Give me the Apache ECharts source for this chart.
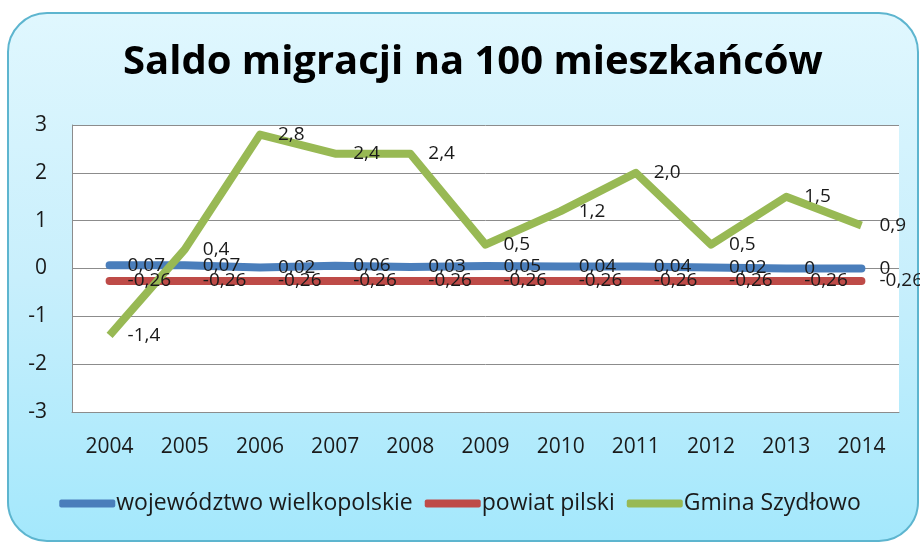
<!DOCTYPE html>
<html>
<head>
<meta charset="utf-8">
<script src="https://cdn.jsdelivr.net/npm/echarts@6/dist/echarts.min.js"></script>
<style>
  html, body { margin: 0; padding: 0; background: #fff; }
  #frame {
    position: absolute; left: 7px; top: 12px; width: 908px; height: 526px;
    border: 2px solid #5db5cf; border-radius: 40px;
    background: linear-gradient(to bottom, #e0f7fe 0%, #c8effc 50%, #a4e8fc 100%);
  }
  #chart { position: absolute; left: 0; top: 0; width: 920px; height: 543px; }
</style>
</head>
<body>
<div id="frame"></div>
<div id="chart"></div>
<script>
const years = ['2004', '2005', '2006', '2007', '2008', '2009', '2010', '2011', '2012', '2013', '2014'];
const wojewodztwo = [0.07, 0.07, 0.02, 0.06, 0.03, 0.05, 0.04, 0.04, 0.02, 0, 0];
const powiat = [-0.26, -0.26, -0.26, -0.26, -0.26, -0.26, -0.26, -0.26, -0.26, -0.26, -0.26];
const gmina = [-1.4, 0.4, 2.8, 2.4, 2.4, 0.5, 1.2, 2.0, 0.5, 1.5, 0.9];

const font = '"Open Sans", "Noto Sans", sans-serif';
const comma = v => String(v).replace('.', ',');

const myChart = echarts.init(document.getElementById('chart'), null, { renderer: 'canvas' });

// same label look for all three lines, to the right of the point
const lbl = (fmt) => ({
    show: true,
    position: 'right',
    distance: 18,
    color: '#1a1a1a',
    fontSize: 19,
    fontFamily: font,
    formatter: p => fmt(p.value)
});

const option = {
    backgroundColor: 'transparent',
    animation: false,
    title: {
        text: 'Saldo migracji na 100 mieszkańców',
        left: 118,
        top: 38,
        textStyle: { fontFamily: font, fontWeight: 'bold', fontSize: 40, color: '#000' }
    },
    grid: {
        left: 72, right: 21, top: 125, bottom: 131,
        show: true, backgroundColor: '#fff', borderWidth: 0
    },
    legend: {
        bottom: 23,
        left: 'center',
        itemWidth: 56,
        itemHeight: 8,
        itemGap: 12,
        icon: 'roundRect',
        textStyle: { fontFamily: font, fontSize: 23, color: '#1a1a1a', padding: [0, 0, 0, -4] },
        data: ['województwo wielkopolskie', 'powiat pilski', 'Gmina Szydłowo']
    },
    xAxis: {
        type: 'category',
        data: years,
        boundaryGap: true,
        axisLine: { onZero: false, lineStyle: { color: '#8c8c8c', width: 1 } },
        axisTick: { show: false },
        axisLabel: { color: '#1a1a1a', fontSize: 21, fontFamily: font, margin: 25 }
    },
    yAxis: {
        type: 'value',
        min: -3, max: 3, interval: 1,
        axisLine: { show: true, lineStyle: { color: '#8c8c8c', width: 1 } },
        axisTick: { show: false },
        splitLine: { lineStyle: { color: '#8c8c8c', width: 1 } },
        axisLabel: { color: '#1a1a1a', fontSize: 21, fontFamily: font, margin: 25 }
    },
    series: [
        {
            name: 'województwo wielkopolskie',
            type: 'line',
            data: wojewodztwo,
            symbol: 'circle',
            symbolSize: 0,
            color: '#4a7ebb',
            lineStyle: { width: 8, color: '#4a7ebb', cap: 'round', join: 'round' },
            label: lbl(comma)
        },
        {
            name: 'powiat pilski',
            type: 'line',
            data: powiat,
            symbol: 'circle',
            symbolSize: 0,
            color: '#be4b48',
            lineStyle: { width: 8, color: '#be4b48', cap: 'round', join: 'round' },
            label: lbl(comma)
        },
        {
            name: 'Gmina Szydłowo',
            type: 'line',
            data: gmina,
            symbol: 'circle',
            symbolSize: 0,
            color: '#98b954',
            lineStyle: { width: 8, color: '#98b954', join: 'round' },
            label: lbl(v => v.toFixed(1).replace('.', ','))
        }
    ]
};

myChart.setOption(option);
</script>
</body>
</html>
